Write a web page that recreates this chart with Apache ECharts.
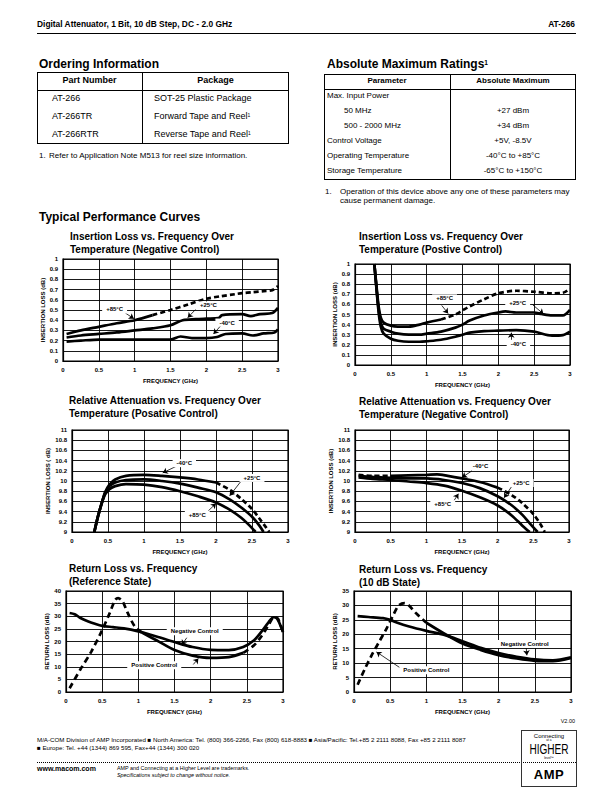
<!DOCTYPE html>
<html>
<head>
<meta charset="utf-8">
<script src="https://cdn.jsdelivr.net/npm/echarts@6/dist/echarts.min.js"></script>
<style>
body { margin: 0; width: 612px; height: 792px; position: relative; background: #fff; overflow: hidden;
       font-family: 'Liberation Sans', Arial, Helvetica, sans-serif; color: #000; }
#charts { position: absolute; left: 0; top: 0; width: 612px; height: 792px; }
.t { position: absolute; white-space: nowrap; line-height: 1; }
.b { font-weight: bold; }
.box { position: absolute; border: 1px solid #000; box-sizing: border-box; }
.hl { position: absolute; height: 0; border-top: 1px solid #000; }
.vl { position: absolute; width: 0; border-left: 1px solid #000; }
sup { font-size: 55%; vertical-align: 0; position: relative; top: -0.5em; }
.c { text-align: center; }
</style>
</head>
<body>
<div id="charts"></div>

<!-- page header -->
<div class="t b" style="left:37px;top:20px;font-size:8.4px">Digital Attenuator, 1 Bit, 10 dB Step, DC - 2.0 GHz</div>
<div class="t b" style="right:37px;top:20px;font-size:8.4px">AT-266</div>
<div class="hl" style="left:37px;top:33px;width:539px;border-top-width:1.3px"></div>

<!-- ordering information -->
<div class="t b" style="left:39px;top:58px;font-size:12px">Ordering Information</div>
<div class="box" style="left:37px;top:72px;width:252px;height:72px"></div>
<div class="hl" style="left:37px;top:90px;width:252px"></div>
<div class="vl" style="left:142px;top:72px;height:72px"></div>
<div class="t b c" style="left:37px;width:105px;top:75.5px;font-size:9px">Part Number</div>
<div class="t b c" style="left:142px;width:147px;top:75.5px;font-size:9px">Package</div>
<div class="t" style="left:52px;top:94px;font-size:9px">AT-266</div>
<div class="t" style="left:52px;top:112px;font-size:9px">AT-266TR</div>
<div class="t" style="left:52px;top:130px;font-size:9px">AT-266RTR</div>
<div class="t" style="left:154px;top:94px;font-size:9px">SOT-25 Plastic Package</div>
<div class="t" style="left:154px;top:112px;font-size:9px">Forward Tape and Reel<sup>1</sup></div>
<div class="t" style="left:154px;top:130px;font-size:9px">Reverse Tape and Reel<sup>1</sup></div>
<div class="t" style="left:39px;top:152px;font-size:8px">1.</div>
<div class="t" style="left:49px;top:152px;font-size:8px">Refer to Application Note M513 for reel size information.</div>

<!-- absolute maximum ratings -->
<div class="t b" style="left:327px;top:58px;font-size:12px">Absolute Maximum Ratings<sup>1</sup></div>
<div class="box" style="left:324px;top:74px;width:252px;height:106px"></div>
<div class="hl" style="left:324px;top:88.5px;width:252px"></div>
<div class="vl" style="left:450px;top:74px;height:106px"></div>
<div class="t b c" style="left:324px;width:126px;top:76.5px;font-size:8px">Parameter</div>
<div class="t b c" style="left:450px;width:126px;top:76.5px;font-size:8px">Absolute Maximum</div>
<div class="t" style="left:327px;top:92px;font-size:8px">Max. Input Power</div>
<div class="t" style="left:344px;top:106.5px;font-size:8px">50 MHz</div>
<div class="t" style="left:344px;top:122px;font-size:8px">500 - 2000 MHz</div>
<div class="t" style="left:327px;top:136.5px;font-size:8px">Control Voltage</div>
<div class="t" style="left:327px;top:152px;font-size:8px">Operating Temperature</div>
<div class="t" style="left:327px;top:167px;font-size:8px">Storage Temperature</div>
<div class="t c" style="left:450px;width:126px;top:106.5px;font-size:8px">+27 dBm</div>
<div class="t c" style="left:450px;width:126px;top:122px;font-size:8px">+34 dBm</div>
<div class="t c" style="left:450px;width:126px;top:136.5px;font-size:8px">+5V, -8.5V</div>
<div class="t c" style="left:450px;width:126px;top:152px;font-size:8px">-40°C to +85°C</div>
<div class="t c" style="left:450px;width:126px;top:167px;font-size:8px">-65°C to +150°C</div>
<div class="t" style="left:325px;top:188px;font-size:8px">1.</div>
<div class="t" style="left:340px;top:188px;font-size:8px">Operation of this device above any one of these parameters may</div>
<div class="t" style="left:340px;top:197px;font-size:8px">cause permanent damage.</div>

<div class="t b" style="left:39px;top:211px;font-size:12px">Typical Performance Curves</div>

<!-- footer -->
<div class="t" style="right:37px;top:719px;font-size:5.5px">V2.00</div>
<div class="t" style="left:37px;top:737px;font-size:6.2px">M/A-COM Division of AMP Incorporated &#9632; North America: Tel. (800) 366-2266, Fax (800) 618-8883 &#9632; Asia/Pacific: Tel.+85 2 2111 8088, Fax +85 2 2111 8087</div>
<div class="t" style="left:37px;top:745px;font-size:6.2px">&#9632; Europe: Tel. +44 (1344) 869 595, Fax+44 (1344) 300 020</div>
<div class="hl" style="left:37px;top:762px;width:539px;border-top:1px dotted #000"></div>
<div class="t b" style="left:37px;top:765px;font-size:7px">www.macom.com</div>
<div class="t" style="left:117px;top:766px;font-size:5.4px">AMP and Connecting at a Higher Level are trademarks.</div>
<div class="t" style="left:117px;top:773px;font-size:5.4px;font-style:italic">Specifications subject to change without notice.</div>
<div class="box" style="left:521px;top:730px;width:56px;height:57px;border-color:#333"></div>
<div class="t c" style="left:521px;width:56px;top:732.5px;font-size:6px">Connecting</div>
<div class="t c" style="left:521px;width:56px;top:738.5px;font-size:3.2px">at a</div>
<div class="t c" style="left:521px;width:56px;top:741.5px;font-size:14px;transform:scaleX(0.72)">HIGHER</div>
<div class="t c" style="left:521px;width:56px;top:756.5px;font-size:3.2px">level&#8482;</div>
<div class="t b c" style="left:521px;width:56px;top:768px;font-size:13px;letter-spacing:0.5px">AMP</div>

<script>
// Frequency in GHz, values in dB
const freqRange = [0, 3, 0.5];
const ilRange = [0, 1, 0.1];
const raRange = [9, 11, 0.2];
const rlRefRange = [0, 40, 5];
const rl10Range = [0, 35, 5];

// Insertion loss, negative control
const ilNegHot = [[0.05,0.265],[0.25,0.30],[0.5,0.335],[0.75,0.37],[1.0,0.40],[1.25,0.45],[1.5,0.50],[1.75,0.555],[2.0,0.61],[2.2,0.635],[2.4,0.655],[2.5,0.665],[2.65,0.675],[2.8,0.685],[2.92,0.695],[3.0,0.735]];
const ilNegRoom = [[0.05,0.23],[0.25,0.25],[0.5,0.265],[0.75,0.28],[1.0,0.30],[1.25,0.32],[1.5,0.35],[1.67,0.40],[1.85,0.41],[2.0,0.415],[2.17,0.42],[2.22,0.45],[2.5,0.46],[2.62,0.44],[2.75,0.46],[2.92,0.47],[3.0,0.52]];
const ilNegCold = [[0.05,0.19],[0.25,0.20],[0.5,0.21],[1.0,0.21],[1.5,0.21],[1.64,0.24],[1.8,0.225],[2.0,0.225],[2.15,0.235],[2.27,0.265],[2.5,0.27],[2.65,0.25],[2.8,0.27],[2.95,0.28],[3.0,0.31]];

// Insertion loss, positive control
const ilPosHot = [[0.27,1.0],[0.3,0.78],[0.33,0.58],[0.36,0.47],[0.4,0.42],[0.5,0.39],[0.6,0.38],[0.75,0.38],[0.9,0.40],[1.0,0.42],[1.2,0.45],[1.4,0.50],[1.5,0.54],[1.6,0.58],[1.8,0.65],[2.0,0.71],[2.25,0.735],[2.5,0.725],[2.75,0.71],[2.9,0.715],[3.0,0.755]];
const ilPosRoom = [[0.27,1.0],[0.3,0.76],[0.33,0.55],[0.36,0.42],[0.4,0.36],[0.5,0.33],[0.6,0.31],[0.75,0.30],[0.9,0.30],[1.0,0.31],[1.2,0.33],[1.4,0.37],[1.5,0.40],[1.6,0.44],[1.8,0.49],[2.0,0.52],[2.1,0.53],[2.25,0.52],[2.5,0.52],[2.6,0.505],[2.75,0.49],[2.9,0.49],[3.0,0.545]];
const ilPosCold = [[0.27,1.0],[0.3,0.75],[0.33,0.52],[0.36,0.38],[0.4,0.31],[0.5,0.26],[0.6,0.24],[0.75,0.23],[0.9,0.23],[1.0,0.235],[1.2,0.25],[1.4,0.28],[1.5,0.30],[1.6,0.32],[1.8,0.335],[2.0,0.34],[2.25,0.345],[2.5,0.33],[2.75,0.29],[2.9,0.295],[3.0,0.33]];

// Relative attenuation, positive control
const raPosCold = [[0.31,9.0],[0.36,9.3],[0.41,9.55],[0.46,9.78],[0.52,9.93],[0.6,10.03],[0.75,10.1],[1.0,10.12],[1.25,10.1],[1.5,10.07],[1.75,10.03],[2.0,9.97],[2.2,9.82],[2.35,9.65],[2.5,9.45],[2.6,9.27],[2.7,9.08],[2.74,9.0]];
const raPosRoom = [[0.31,9.0],[0.36,9.3],[0.41,9.55],[0.46,9.77],[0.52,9.9],[0.6,9.97],[0.75,10.02],[1.0,10.03],[1.25,10.0],[1.5,9.95],[1.75,9.87],[2.0,9.78],[2.2,9.63],[2.35,9.48],[2.5,9.3],[2.6,9.13],[2.66,9.0]];
const raPosHot = [[0.31,9.0],[0.36,9.3],[0.41,9.55],[0.46,9.74],[0.52,9.84],[0.6,9.9],[0.75,9.94],[1.0,9.93],[1.25,9.88],[1.5,9.8],[1.75,9.7],[2.0,9.58],[2.2,9.43],[2.35,9.28],[2.45,9.15],[2.55,9.0]];

// Relative attenuation, negative control
const raNegCold = [[0.05,10.12],[0.25,10.1],[0.5,10.1],[0.75,10.11],[1.0,10.12],[1.15,10.13],[1.3,10.1],[1.5,10.05],[1.75,9.98],[2.0,9.87],[2.2,9.72],[2.35,9.56],[2.5,9.35],[2.6,9.15],[2.66,9.0]];
const raNegRoom = [[0.05,10.1],[0.25,10.08],[0.5,10.06],[0.75,10.05],[1.0,10.05],[1.25,10.02],[1.5,9.96],[1.75,9.86],[2.0,9.7],[2.2,9.52],[2.35,9.33],[2.45,9.17],[2.56,9.0]];
const raNegHot = [[0.05,10.07],[0.25,10.04],[0.5,10.02],[0.75,9.99],[1.0,9.96],[1.25,9.91],[1.5,9.81],[1.75,9.68],[2.0,9.52],[2.2,9.32],[2.35,9.12],[2.45,9.0]];

// Return loss, reference state
const rlRefNeg = [[0.05,31.3],[0.12,30.8],[0.2,29.3],[0.3,28.0],[0.4,27.0],[0.5,26.2],[0.65,25.7],[0.8,25.2],[1.0,24.0],[1.25,22.0],[1.5,19.8],[1.75,17.8],[2.0,16.7],[2.25,16.6],[2.45,17.8],[2.6,20.5],[2.7,23.8],[2.8,27.6],[2.87,29.6],[2.92,29.0],[3.0,23.7]];
const rlRefPos = [[0.05,1.5],[0.2,9],[0.35,16],[0.5,24.5],[0.6,31],[0.68,36.5],[0.72,37.2],[0.78,36],[0.85,31.5],[0.95,26],[1.05,23.5],[1.25,20.5],[1.5,16.6],[1.75,14.4],[2.0,13.5],[2.25,13.8],[2.45,15.5],[2.6,18.5],[2.7,22],[2.8,26.5],[2.88,29.8],[2.93,29],[3.0,23.7]];

// Return loss, 10 dB state
const rl10Neg = [[0.05,26.3],[0.2,26.0],[0.4,25.6],[0.5,25.0],[0.6,24.0],[0.75,22.8],[1.0,21.2],[1.25,19.8],[1.5,17.6],[1.75,15.3],[2.0,13.5],[2.25,12.2],[2.5,11.3],[2.75,11.0],[3.0,12.0]];
const rl10Pos = [[0.05,2.5],[0.15,8],[0.25,13],[0.35,17.5],[0.45,22],[0.55,27],[0.62,30],[0.7,30.8],[0.76,30],[0.85,27.5],[1.0,24],[1.25,20.2],[1.5,16.8],[1.75,14.6],[2.0,12.8],[2.25,11.6],[2.5,10.8],[2.75,10.7],[3.0,11.8]];

// callouts: text, label centre, arrow start, arrow tip (data coords)
const ilNegNotes = [
  {text: '+85°C', at: [0.72, 0.505], from: [0.87, 0.47], to: [0.99, 0.415]},
  {text: '+25°C', at: [2.03, 0.545], from: [1.85, 0.505], to: [1.74, 0.425]},
  {text: '-40°C', at: [2.29, 0.377], from: [2.2, 0.345], to: [2.1, 0.265]}
];
const ilPosNotes = [
  {text: '+85°C', at: [1.25, 0.66], from: [1.21, 0.59], to: [1.3, 0.51]},
  {text: '+25°C', at: [2.27, 0.61], from: [2.48, 0.596], to: [2.63, 0.505]},
  {text: '-40°C', at: [2.28, 0.21], from: [2.18, 0.245], to: [2.18, 0.32]}
];
const raPosNotes = [
  {text: '-40°C', at: [1.56, 10.35], from: [1.45, 10.29], to: [1.26, 10.16]},
  {text: '+25°C', at: [2.5, 10.06], from: [2.35, 10.0], to: [2.19, 9.71]},
  {text: '+85°C', at: [1.74, 9.34], from: [1.89, 9.41], to: [2.0, 9.56]}
];
const raNegNotes = [
  {text: '-40°C', at: [1.76, 10.3], from: [1.64, 10.2], to: [1.5, 10.07]},
  {text: '+25°C', at: [2.33, 9.96], from: [2.2, 9.9], to: [2.09, 9.67]},
  {text: '+85°C', at: [1.23, 9.54], from: [1.39, 9.62], to: [1.45, 9.75]}
];
const rlRefNotes = [
  {text: 'Negative Control', at: [1.78, 24.1], from: [1.67, 21.5], to: [1.6, 18.6]},
  {text: 'Positive Control', at: [1.22, 10.6], from: [1.76, 10.9], to: [1.83, 13.3]}
];
const rl10Notes = [
  {text: 'Negative Control', at: [2.36, 16.6], from: [2.38, 15.7], to: [2.39, 12.7]},
  {text: 'Positive Control', at: [1.0, 7.5], from: [0.66, 8.0], to: [0.31, 13.9]}
];

const FONT = "'Liberation Sans', Arial, Helvetica, sans-serif";

const panels = [
  {grid: {left: 63, top: 259, width: 215, height: 102}, titleAt: [70, 230],
   title: 'Insertion Loss vs. Frequency Over\nTemperature (Negative Control)',
   yName: 'INSERTION LOSS (dB)', yGap: 15, range: ilRange, dash: [5, 3],
   curves: [[ilNegHot, [[1.2, 3]]], [ilNegRoom, []], [ilNegCold, []]], notes: ilNegNotes},
  {grid: {left: 355, top: 264, width: 215, height: 101}, titleAt: [359, 230],
   title: 'Insertion Loss vs. Frequency Over\nTemperature (Postive Control)',
   yName: 'INSERTION LOSS (dB)', yGap: 17, range: ilRange, dash: [5, 3],
   curves: [[ilPosHot, [[1.15, 3]]], [ilPosRoom, []], [ilPosCold, []]], notes: ilPosNotes},
  {grid: {left: 72, top: 430, width: 216, height: 102}, titleAt: [69, 393.5],
   title: 'Relative Attenuation vs. Frequency Over\nTemperature (Posative Control)',
   yName: 'INSERTION LOSS ( dB)', yGap: 19, range: raRange, dash: [5, 3],
   curves: [[raPosCold, [[2.05, 3]]], [raPosRoom, []], [raPosHot, []]], notes: raPosNotes},
  {grid: {left: 355, top: 430, width: 214, height: 102}, titleAt: [359, 395],
   title: 'Relative Attenuation vs. Frequency Over\nTemperature (Negative Control)',
   yName: 'INSERTION LOSS (dB)', yGap: 21, range: raRange, dash: [5, 3],
   curves: [[raNegCold, [[0, 0.6], [2.05, 3]]], [raNegRoom, []], [raNegHot, []]], notes: raNegNotes},
  {grid: {left: 66, top: 591, width: 217, height: 101}, titleAt: [69, 562],
   title: 'Return Loss vs. Frequency\n(Reference State)',
   yName: 'RETURN LOSS (dB)', yGap: 13, range: rlRefRange, dash: [6, 4],
   curves: [[rlRefNeg, []], [rlRefPos, [[0, 1.0], [2.5, 3]]]], notes: rlRefNotes},
  {grid: {left: 354, top: 591, width: 217, height: 101}, titleAt: [359, 562.5],
   title: 'Return Loss vs. Frequency\n(10 dB State)',
   yName: 'RETURN LOSS (dB)', yGap: 16, range: rl10Range, dash: [6, 4],
   curves: [[rl10Neg, []], [rl10Pos, [[0, 1.1]]]], notes: rl10Notes}
];

// split a curve into solid / dashed runs
function segments(pts, dashRanges) {
  const isDash = (a, b) => {
    const m = (a[0] + b[0]) / 2;
    return dashRanges.some(r => m >= r[0] && m <= r[1]);
  };
  const out = [];
  let cur = [pts[0]];
  let curDash = isDash(pts[0], pts[1]);
  for (let i = 1; i < pts.length; i++) {
    const d = isDash(pts[i - 1], pts[i]);
    if (d !== curDash) {
      out.push({dash: curDash, data: cur});
      cur = [pts[i - 1]];
      curDash = d;
    }
    cur.push(pts[i]);
  }
  out.push({dash: curDash, data: cur});
  return out;
}

const axisText = {fontFamily: FONT, fontSize: 6, fontWeight: 'bold', color: '#000'};

const option = {animation: false, title: [], grid: [], xAxis: [], yAxis: [], series: []};

panels.forEach(function (p, i) {
  option.title.push({
    text: p.title, left: p.titleAt[0], top: p.titleAt[1], padding: 0,
    textStyle: {fontFamily: FONT, fontSize: 10, fontWeight: 'bold', color: '#000', lineHeight: 13}
  });
  option.grid.push(Object.assign({show: true, borderColor: '#000', borderWidth: 1.2}, p.grid));
  option.xAxis.push({
    gridIndex: i, type: 'value', min: freqRange[0], max: freqRange[1], interval: freqRange[2],
    name: 'FREQUENCY (GHz)', nameLocation: 'middle', nameGap: 17, nameTextStyle: axisText,
    axisLabel: Object.assign({margin: 6}, axisText),
    axisLine: {lineStyle: {color: '#000', width: 1.2}},
    axisTick: {show: false},
    splitLine: {show: true, lineStyle: {color: '#000', width: 0.9}}
  });
  option.yAxis.push({
    gridIndex: i, type: 'value', min: p.range[0], max: p.range[1], interval: p.range[2],
    name: p.yName, nameLocation: 'middle', nameGap: p.yGap, nameTextStyle: axisText,
    axisLabel: Object.assign({margin: 5}, axisText),
    axisLine: {show: true, lineStyle: {color: '#000', width: 1.2}},
    axisTick: {show: false},
    splitLine: {show: true, lineStyle: {color: '#000', width: 0.9}}
  });
  p.curves.forEach(function (c) {
    segments(c[0], c[1]).forEach(function (s) {
      option.series.push({
        type: 'line', xAxisIndex: i, yAxisIndex: i, data: s.data,
        showSymbol: false, smooth: 0.3, z: 3, silent: true,
        lineStyle: {color: '#000', width: 2.7, type: s.dash ? p.dash : 'solid', cap: 'butt'}
      });
    });
  });
  option.series.push({
    type: 'scatter', xAxisIndex: i, yAxisIndex: i, data: [], z: 5, silent: true,
    markLine: {
      silent: true, symbol: ['none', 'arrow'], symbolSize: 5,
      label: {show: false},
      lineStyle: {type: 'solid', color: '#000', width: 0.8},
      data: p.notes.map(n => [{coord: n.from}, {coord: n.to}])
    },
    markPoint: {
      silent: true, symbol: 'rect', symbolSize: 1,
      itemStyle: {color: 'rgba(0,0,0,0)'},
      label: Object.assign({show: true, position: 'inside', formatter: '{b}',
        backgroundColor: '#fff', padding: [1, 4]}, axisText),
      data: p.notes.map(n => ({name: n.text, coord: n.at}))
    }
  });
});

var myChart = echarts.init(document.getElementById('charts'), null, {renderer: 'svg', width: 612, height: 792});
myChart.setOption(option);
</script>
</body>
</html>
